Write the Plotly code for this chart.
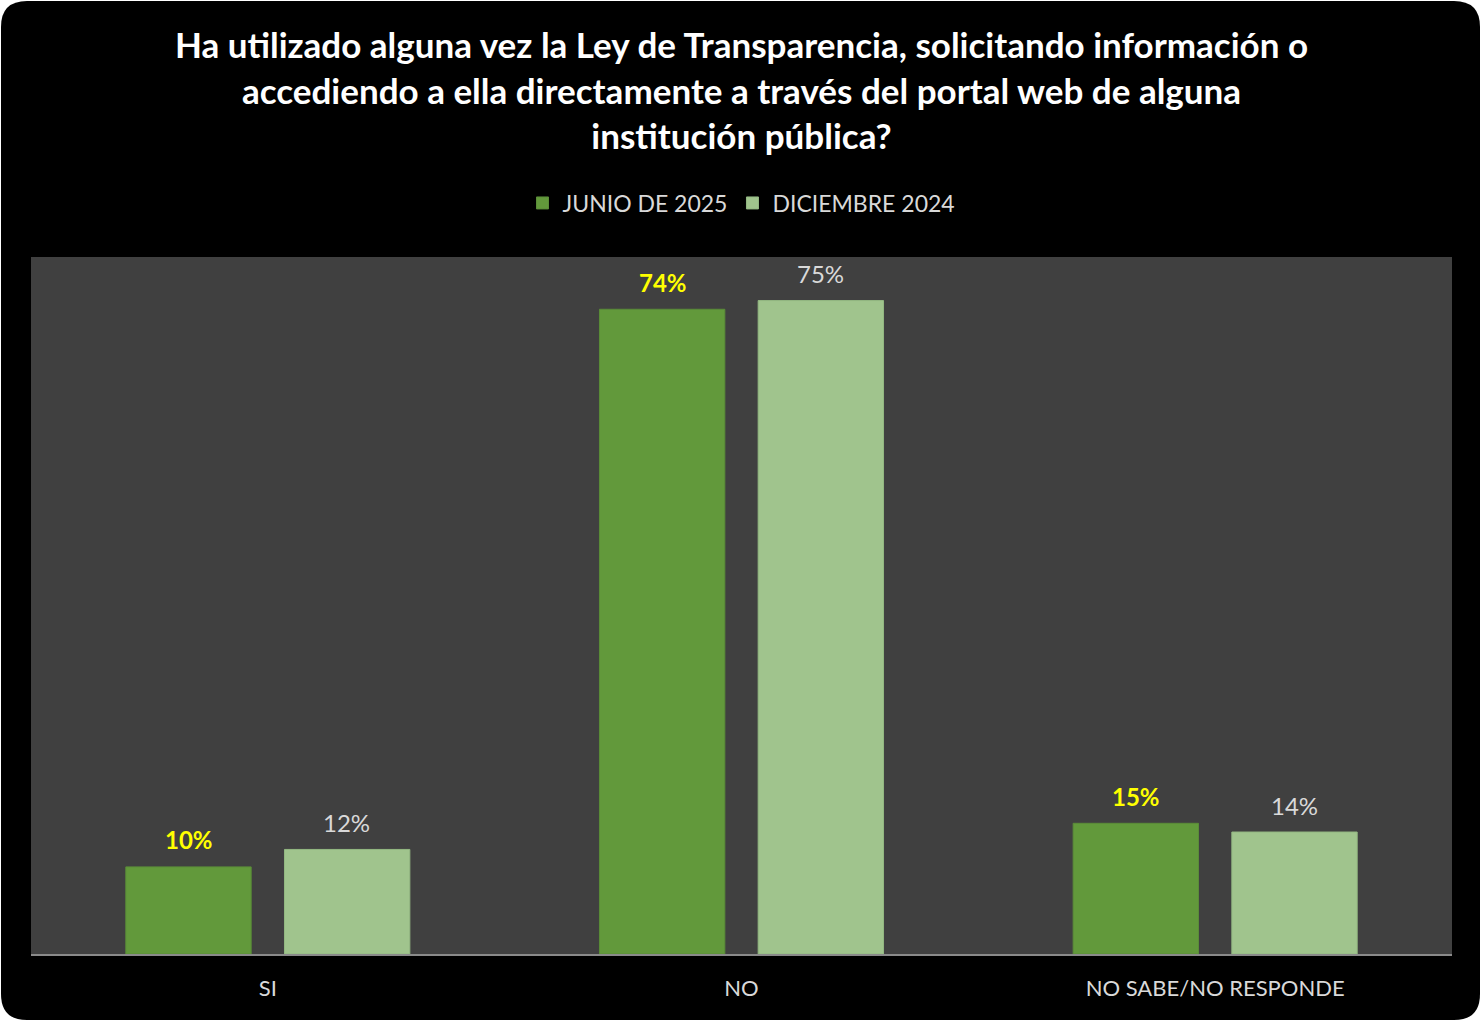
import plotly.graph_objects as go

categories = ["SI", "NO", "NO SABE/NO RESPONDE"]
series_names = ["JUNIO DE 2025", "DICIEMBRE 2024"]
junio_2025 = [10, 74, 15]
diciembre_2024 = [12, 75, 14]

title_text = ("Ha utilizado alguna vez la Ley de Transparencia, solicitando información o<br>"
              "accediendo a ella directamente a través del portal web de alguna<br>"
              "institución pública?")

W, H = 1481, 1021
ml, mr, mt, mb = 31, 29, 257, 67
pw, ph = W - ml - mr, H - mt - mb

FONT = "Lato"

fig = go.Figure()
fig.add_trace(go.Bar(
    x=categories, y=junio_2025, name=series_names[0],
    marker=dict(color="#62993b", line=dict(color="#5a8c38", width=1)),
))
fig.add_trace(go.Bar(
    x=categories, y=diciembre_2024, name=series_names[1],
    marker=dict(color="#a0c48d", line=dict(color="#93b882", width=1)),
))

# data labels above bars
for cat, v in zip(categories, junio_2025):
    fig.add_annotation(x=cat, y=v, xref="x", yref="y", text=f"{v}%", showarrow=False,
                       xshift=-79, yshift=27, yanchor="middle",
                       font=dict(color="#ffff00", size=24, family=FONT, weight="bold"))
for cat, v in zip(categories, diciembre_2024):
    fig.add_annotation(x=cat, y=v, xref="x", yref="y", text=f"{v}%", showarrow=False,
                       xshift=79, yshift=27, yanchor="middle",
                       font=dict(color="#d9d9d9", size=24, family=FONT))

# rounded black card
r = 26
def px(xp):
    return (xp - ml) / pw
def py(yp):
    return (H - mb - yp) / ph
x0, x1, y0, y1 = 1, W - 1, 1, H - 1
path = (f"M {px(x0 + r)},{py(y0)} L {px(x1 - r)},{py(y0)} "
        f"Q {px(x1)},{py(y0)} {px(x1)},{py(y0 + r)} "
        f"L {px(x1)},{py(y1 - r)} Q {px(x1)},{py(y1)} {px(x1 - r)},{py(y1)} "
        f"L {px(x0 + r)},{py(y1)} Q {px(x0)},{py(y1)} {px(x0)},{py(y1 - r)} "
        f"L {px(x0)},{py(y0 + r)} Q {px(x0)},{py(y0)} {px(x0 + r)},{py(y0)} Z")
fig.add_shape(type="path", path=path, xref="paper", yref="paper",
              fillcolor="#000000", line=dict(color="#000000", width=0), layer="below")
fig.add_shape(type="rect", x0=0, x1=1, y0=0, y1=1, xref="paper", yref="paper",
              fillcolor="#404040", line=dict(width=0), layer="below")

fig.update_layout(
    width=W, height=H,
    margin=dict(l=ml, r=mr, t=mt, b=mb),
    paper_bgcolor="#ffffff",
    plot_bgcolor="rgba(0,0,0,0)",
    barmode="group",
    bargap=0.33,
    bargroupgap=0.21,
    font=dict(family=FONT, color="#d9d9d9", size=22),
    title=dict(text=title_text, x=0.5, xanchor="center", xref="paper",
               y=1 - 58 / H, yanchor="middle",
               font=dict(family=FONT, size=35, color="#ffffff", weight="bold")),
    legend=dict(orientation="h", x=0.5, xanchor="center", y=1 + 54 / ph, yanchor="middle",
                font=dict(size=23, color="#d9d9d9", family=FONT),
                bgcolor="rgba(0,0,0,0)", itemwidth=30, traceorder="normal"),
    showlegend=True,
    xaxis=dict(showline=True, linecolor="#8a8a8a", linewidth=2, ticks="",
               ticklabelstandoff=14,
               tickfont=dict(size=22, color="#d9d9d9", family=FONT), showgrid=False),
    yaxis=dict(range=[0, 80], visible=False, showgrid=False, zeroline=False),
)

fig.write_html("out.html", config={"displayModeBar": False},
               post_script="document.body.style.margin='0px';")
